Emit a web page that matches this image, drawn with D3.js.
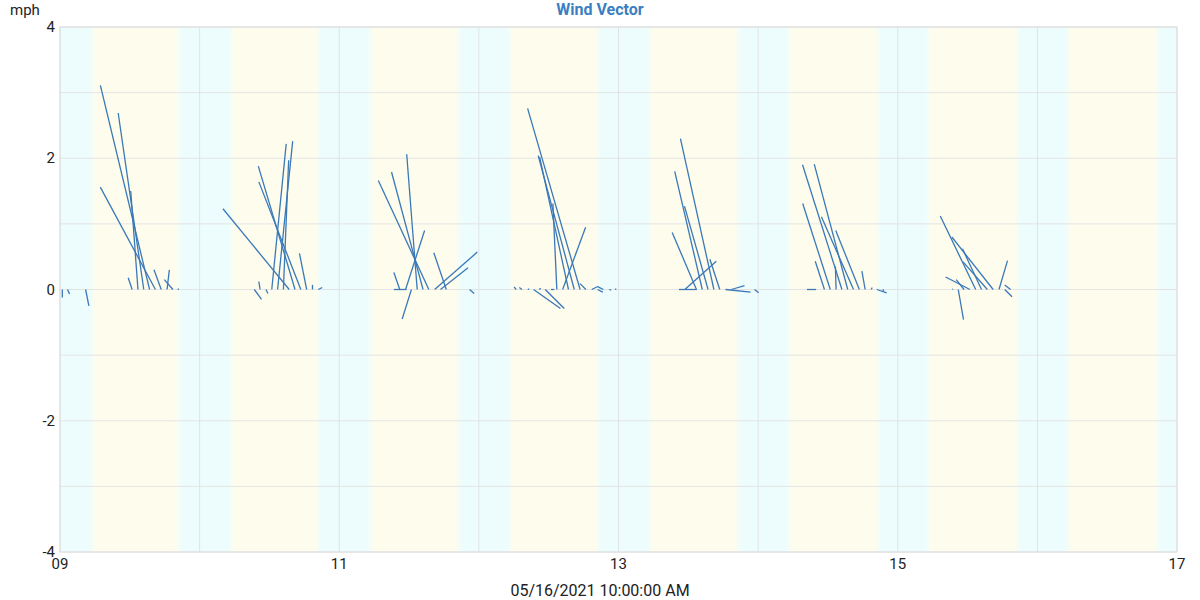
<!DOCTYPE html>
<html><head><meta charset="utf-8">
<script src="https://cdn.jsdelivr.net/npm/d3@7"></script>
<style>body{margin:0;background:#fff;} svg{display:block;font-family:Roboto,"Noto Sans",sans-serif;}</style>
</head><body><svg id="c" width="1200" height="600"></svg>
<script>
// ---- data ----
const title = "Wind Vector";
const yLabel = "mph";
const xTitle = "05/16/2021 10:00:00 AM";
const yTicks = [-4, -2, 0, 2, 4];
const xLabelDays = [9, 11, 13, 15, 17];
// day bands: day of May, sunrise hour, sunset hour
const bandDays    = [9, 10, 11, 12, 13, 14, 15, 16];
const sunriseHour = [5.55, 5.5, 5.45, 5.4, 5.36, 5.32, 5.28, 5.25];
const sunsetHour  = [20.4, 20.44, 20.48, 20.52, 20.56, 20.6, 20.62, 20.65];
// wind vectors: day of May, hour of day, u (east, mph), v (north, mph)
const vecDay  = [9,9,9,9,9,9,9,9,9,9,9,9,
                 10,10,10,10,10,10,10,10,10,10,10,10,
                 11,11,11,11,11,11,11,11,11,11,11,11,
                 12,12,12,12,12,12,12,12,12,12,12,12,12,12,12,12,12,12,
                 13,13,13,13,13,13,13,13,13,13,
                 14,14,14,14,14,14,14,14,14,14,14,14,
                 15,15,15,15,15,15,15,15,15,15,15];
const vecHour = [0.4,1.3,4.4,12.4,13.4,14.4,15.4,16.4,17.4,18.4,19.4,20.2,
                 9.4,10.4,11.4,12.4,13.4,14.4,15.4,16.4,17.4,18.4,19.4,20.4,
                 8.4,9.4,10.4,11.4,12.4,13.4,14.4,15.4,16.4,17.4,18.4,22.4,
                 6.4,7.4,9.4,10.4,11.4,13.4,14.4,15.4,16.4,17.4,18.4,19.4,20.4,21.4,22.4,23.4,12.4,8.4,
                 10.4,11.4,13.4,14.4,15.4,16.4,17.4,18.4,19.4,23.4,
                 8.4,11.4,12.4,13.4,14.4,15.4,16.4,17.4,18.4,19.4,20.4,21.4,
                 9.4,10.4,11.4,12.4,13.4,14.4,15.4,16.4,17.4,18.4,19.4];
const vecU    = [0.0,0.03,0.05,-0.06,-0.11,-0.39,-0.75,-0.84,-0.11,0.035,-0.13,0.02,
                 0.11,-0.02,0.03,0.22,0.23,0.08,-1.01,-0.56,-0.64,-0.11,0.0,0.06,
                 0.0,0.19,-0.09,0.29,-0.14,-0.16,-0.48,-0.77,0.65,0.42,-0.19,0.07,
                 -0.03,-0.04,0.41,0.02,0.29,-0.06,0.35,-0.44,-0.55,-0.8,-0.09,0.1,0.08,-0.08,0.03,0.02,0.05,0.02,
                 0.27,0.48,-0.37,-0.42,-0.36,-0.51,-0.15,0.38,0.2,0.06,
                 0.14,-0.14,-0.42,-0.01,-0.6,-0.51,-0.49,-0.36,-0.05,0.02,0.15,0.02,
                 0.01,0.08,-0.12,-0.37,-0.54,-0.29,-0.37,-0.63,0.13,0.11,-0.09];
const vecV    = [-0.12,-0.07,-0.25,0.18,1.5,2.69,3.11,1.56,0.3,0.3,0.15,0.01,
                 -0.15,0.12,-0.06,2.22,2.26,1.97,1.23,1.88,1.64,0.55,0.07,0.03,
                 0.0,0.0,0.26,0.9,-0.45,2.06,1.79,1.66,0.57,0.33,0.56,-0.06,
                 0.04,0.03,-0.29,0.02,-0.29,1.31,0.95,2.02,2.04,2.76,0.09,0.05,-0.04,0.04,-0.01,0.01,0.0,0.01,
                 0.0,0.43,0.87,1.8,1.27,2.3,0.46,-0.04,0.06,-0.05,
                 0.0,0.43,1.31,0.35,1.9,1.91,1.11,0.9,0.28,0.03,-0.05,-0.02,
                 0.01,-0.46,0.15,0.19,1.12,0.62,0.42,0.8,0.44,-0.11,0.07];

// ---- chart ----
const svg = d3.select("#c");
const M = {l:60, r:1177, t:27, b:552};
const x = d3.scaleTime().domain([new Date(2021,4,9), new Date(2021,4,17)]).range([M.l, M.r]);
const y = d3.scaleLinear().domain([-4, 4]).range([M.b, M.t]);
const dt = (d, h) => new Date(2021, 4, d, 0, 0, 0, 0).getTime() + h * 3600e3;
const cyan = "#edfdfd", yellow = "#fefded";

// background gradient of day/night
const defs = svg.append("defs");
const grad = defs.append("linearGradient").attr("id","bg").attr("gradientUnits","userSpaceOnUse")
  .attr("x1", M.l).attr("x2", M.r).attr("y1",0).attr("y2",0);
const W = M.r - M.l;
const off = t => Math.max(0, Math.min(1, (x(new Date(t)) - M.l) / W));
const fade = 0.55;
grad.append("stop").attr("offset",0).attr("stop-color",cyan);
bandDays.forEach((d,i) => {
  grad.append("stop").attr("offset", off(dt(d, sunriseHour[i]-fade))).attr("stop-color",cyan);
  grad.append("stop").attr("offset", off(dt(d, sunriseHour[i]+fade))).attr("stop-color",yellow);
  grad.append("stop").attr("offset", off(dt(d, sunsetHour[i]-fade))).attr("stop-color",yellow);
  grad.append("stop").attr("offset", off(dt(d, sunsetHour[i]+fade))).attr("stop-color",cyan);
});
grad.append("stop").attr("offset",1).attr("stop-color",cyan);
svg.append("rect").attr("x",M.l).attr("y",M.t).attr("width",W).attr("height",M.b-M.t).attr("fill","url(#bg)");

// grid
const g = svg.append("g");
g.selectAll("line.h").data(d3.range(-4,5,1)).join("line")
  .attr("x1",M.l).attr("x2",M.r).attr("y1",d=>y(d)).attr("y2",d=>y(d))
  .attr("stroke","#e4e4e4").attr("stroke-width",1);
g.selectAll("line.v").data(x.ticks(d3.timeDay.every(1))).join("line")
  .attr("y1",M.t).attr("y2",M.b).attr("x1",d=>x(d)).attr("x2",d=>x(d))
  .attr("stroke","#dfe3e6").attr("stroke-width",1);
svg.append("rect").attr("x",M.l).attr("y",M.t).attr("width",W).attr("height",M.b-M.t)
  .attr("fill","none").attr("stroke","#dcdcdc").attr("stroke-width",1);

// vectors
const k = y(0) - y(1);
const vecs = vecDay.map((d,i) => ({t: dt(d, vecHour[i]), u: vecU[i], v: vecV[i]}));
svg.append("g").selectAll("line").data(vecs).join("line")
  .attr("x1", d => x(new Date(d.t))).attr("y1", y(0))
  .attr("x2", d => x(new Date(d.t)) + d.u * k).attr("y2", d => y(d.v))
  .attr("stroke","#3a78b8").attr("stroke-width",1.3);

// axes labels
svg.append("g").selectAll("text").data(yTicks).join("text")
  .attr("x", M.l - 5).attr("y", d => y(d) + 5).attr("text-anchor","end")
  .attr("font-size",15).attr("fill","#222").text(d => d);
svg.append("g").selectAll("text").data(xLabelDays).join("text")
  .attr("x", d => x(new Date(2021,4,d))).attr("y", M.b + 17).attr("text-anchor","middle")
  .attr("font-size",15).attr("fill","#222").text(d => d3.format("02d")(d));
svg.append("text").attr("x",10).attr("y",15).attr("font-size",15).attr("fill","#222").text(yLabel);
svg.append("text").attr("x",600).attr("y",15).attr("text-anchor","middle").attr("font-size",16)
  .attr("font-weight","bold").attr("fill","#3b7fc0").text(title);
svg.append("text").attr("x",600).attr("y",596).attr("text-anchor","middle").attr("font-size",16)
  .attr("fill","#222").text(xTitle);
</script></body></html>
